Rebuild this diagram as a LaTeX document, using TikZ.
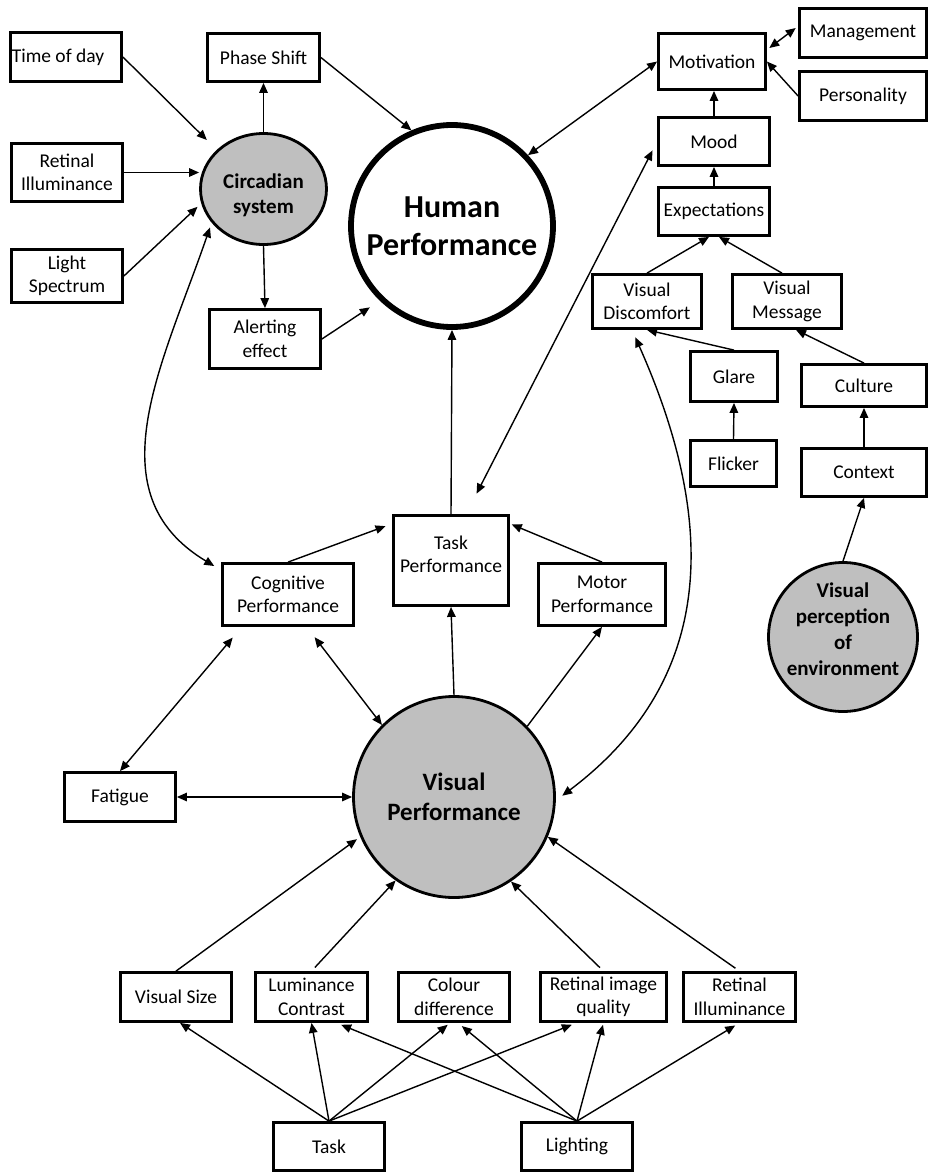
\documentclass[tikz,border=0pt]{standalone}
\usepackage{fontspec}
\setmainfont{Carlito}
\usetikzlibrary{arrows.meta,shapes.geometric,calc}
\begin{document}
\begin{tikzpicture}[x=1pt,y=-1pt,
  box/.style={draw, line width=2.8pt, fill=white, align=center, inner sep=1pt,
    font=\fontsize{19.5}{23.5}\selectfont},
  wh/.style 2 args={minimum width=#1, minimum height=#2},
  hub/.style={draw, line width=2.8pt, fill=black!25, align=center, inner sep=0pt},
  arr/.style={line width=1.4pt, -{Triangle[length=10pt,width=8.5pt]}},
  dbl/.style={line width=1.4pt, {Triangle[length=10pt,width=8.5pt]}-{Triangle[length=10pt,width=8.5pt]}}]
\useasboundingbox (0,0) rectangle (929,1173);

% ---------- nodes ----------
\node[box, wh={111}{49}] (tod) at (66,57) {Time of day\hspace*{16pt}};
\node[box, wh={112}{48}] (phase) at (263.5,57.5) {Phase Shift};
\node[box, wh={111}{58}] (retL) at (67,172.5) {Retinal\\Illuminance};
\node[box, wh={111}{53}] (ls) at (67,276) {Light\\Spectrum};
\node[hub, ellipse, wh={126}{111}, font=\fontsize{21}{25.5}\selectfont\bfseries] (circ) at (263.5,189)
  {\raisebox{-12.25pt}[0pt][0pt]{\begin{tabular}{@{}c@{}}Circadian\\system\end{tabular}}};
\node[box, wh={111}{59}] (alert) at (265,339) {Alerting\\effect};
\node[draw, circle, line width=5.8pt, minimum size=202, inner sep=0pt, align=center,
  font=\fontsize{32}{38.5}\selectfont\bfseries] (human) at (452,226) {Human\\Performance};

\node[box, wh={107}{56}] (motiv) at (712,61.5) {Motivation};
\node[box, wh={127}{49}] (mgmt) at (863,33) {Management};
\node[box, wh={127}{49}] (pers) at (863,96) {Personality};
\node[box, wh={111}{48}] (mood) at (714,141.5) {Mood};
\node[box, wh={111}{48}] (exp) at (714,211.5) {Expectations};
\node[box, wh={109}{54}] (vd) at (647,301.5) {Visual\\Discomfort};
\node[box, wh={109}{54}] (vm) at (787,301.5) {Visual\\Message};
\node[box, wh={87}{50}] (glare) at (734,376.5) {Glare};
\node[box, wh={125}{42}] (culture) at (864,385.5) {Culture};
\node[box, wh={86}{46}] (flicker) at (733.5,463.5) {Flicker};
\node[box, wh={125}{48}] (context) at (864,472.5) {Context};
\node[hub, circle, minimum size=149, font=\fontsize{21}{26}\selectfont\bfseries] (vperc) at (843,637)
  {\raisebox{0.75pt}[0pt][0pt]{\begin{tabular}{@{}c@{}}Visual\\perception\\of\\environment\end{tabular}}};

\node[box, wh={115}{90}] (taskp) at (451,560.5) {\raisebox{-0.9pt}[0pt][0pt]{\begin{tabular}{@{}c@{}}Task\\Performance\end{tabular}}};
\node[box, wh={131}{62}] (cog) at (288,594.5) {Cognitive\\Performance};
\node[box, wh={127}{62}] (motor) at (602,594.5) {Motor\\Performance};
\node[box, wh={111}{49}] (fat) at (120,797) {Fatigue};
\node[hub, circle, minimum size=201, font=\fontsize{25}{30}\selectfont\bfseries] (vp) at (454,797) {Visual\\Performance};

\node[box, wh={111}{49}] (vs) at (176,997) {Visual Size};
\node[box, wh={112}{49}] (lc) at (311.5,997) {Luminance\\Contrast};
\node[box, wh={111}{49}] (cd) at (454,997) {Colour\\difference};
\node[box, wh={126}{49}] (riq) at (603.5,997) {Retinal image\\quality};
\node[box, wh={112}{49}] (ril) at (739.5,997) {Retinal\\Illuminance};
\node[box, wh={111}{48}] (task) at (329,1146.5) {Task};
\node[box, wh={111}{48}] (light) at (577,1146.5) {Lighting};

% ---------- connectors: circadian ----------
\draw[arr, shorten >=14pt] (tod.east) -- (circ.140);
\draw[arr] (retL.east) -- (retL.east -| circ.west);
\draw[arr, shorten >=5pt] (ls.east) -- (circ.193);
\draw[arr] (circ.north) -- (phase.south);
\draw[arr] (circ.south) -- (alert.north);
\draw[arr] (phase.east) -- (human.113);
\draw[arr, shorten >=12pt] (alert.east) -- (human.226);
\draw[dbl, shorten <=5pt, shorten >=8pt] (circ.213) to[out=251, in=149, looseness=1.1] (cog.160);

% ---------- connectors: motivation side ----------
\draw[arr] (taskp.north) -- (human.south);
\draw[dbl] (human.43) -- (motiv.west);
\draw[dbl, shorten <=23pt, shorten >=10pt] (taskp.72) -- (mood.west);
\draw[dbl, shorten <=3pt, shorten >=3pt] (motiv.12) -- (mgmt.174);
\draw[arr] (pers.west) -- (motiv.east);
\draw[arr] (mood.north) -- (mood.north |- motiv.south);
\draw[arr] (exp.north) -- (mood.south);
\draw[arr] (vd.north) -- ([xshift=-5pt]exp.south);
\draw[arr] ([xshift=-5pt]vm.north) -- ([xshift=5pt]exp.south);
\draw[arr] (glare.north) -- (vd.south);
\draw[arr] (flicker.north) -- (glare.south);
\draw[arr] (context.north) -- (culture.south);
\draw[arr] (culture.north) -- ([xshift=9pt]vm.south);
\draw[arr] (vperc.north) -- (context.south);
\draw[dbl, shorten <=8pt, shorten >=8pt] ([xshift=-15pt]vd.south) to[out=-66, in=37, looseness=1.1] (vp.-2);

% ---------- connectors: performance ----------
\draw[arr, shorten >=7pt] (cog.north) -- (taskp.148);
\draw[arr, shorten >=2pt] (motor.north) -- (taskp.32);
\draw[arr] (vp.north) -- (taskp.south);
\draw[arr] (vp.44) -- (motor.south);
\draw[dbl, shorten <=13pt] (cog.-60) -- (vp.135);
\draw[dbl, shorten <=14pt] (cog.215) -- (fat.north);
\draw[dbl] (fat.east) -- (vp.west);

% ---------- connectors: bottom ----------
\draw[arr, shorten >=4pt] (vs.north) -- (vp.203);
\draw[arr, shorten <=5pt] (lc.north) -- (vp.235);
\draw[arr, shorten <=5pt] (riq.north) -- (vp.304);
\draw[arr, shorten <=5pt] (ril.north) -- (vp.337);

\draw[arr] (task.north) -- ([xshift=4pt]vs.south);
\draw[arr] (task.north) -- (lc.south);
\draw[arr, shorten >=3pt] (task.north) -- ([xshift=-4pt]cd.south);
\draw[arr, shorten >=5pt] (task.north) -- ([xshift=-27pt]riq.south);
\draw[arr, shorten >=5pt] (light.north) -- ([xshift=25pt]lc.south);
\draw[arr, shorten >=5pt] (light.north) -- ([xshift=4pt]cd.south);
\draw[arr, shorten >=2pt] (light.north) -- (riq.south);
\draw[arr, shorten >=5pt] (light.north) -- (ril.south);
\end{tikzpicture}
\end{document}
